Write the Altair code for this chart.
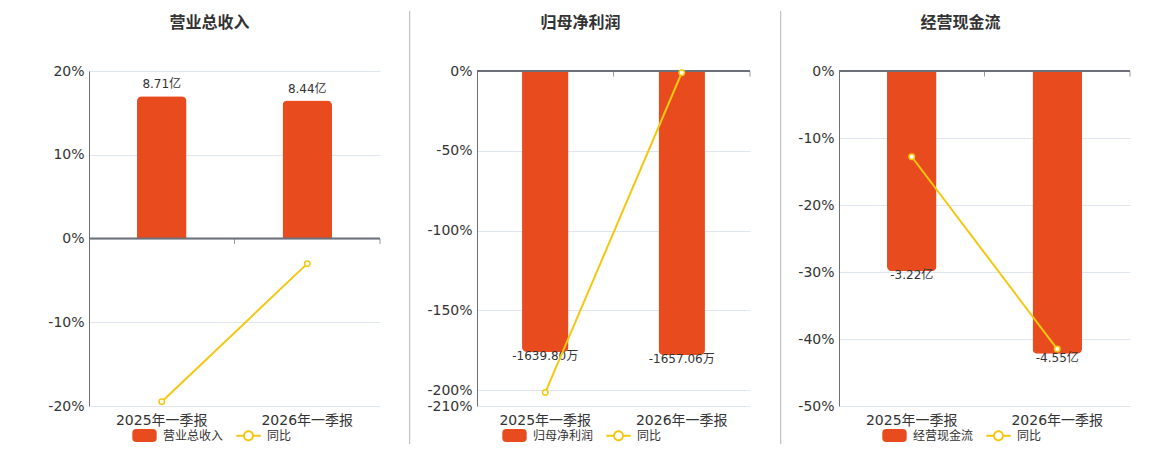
import math
import altair as alt
import pandas as pd

# ---- data ----
categories = ['2025年一季报', '2026年一季报']

titles = ['营业总收入', '归母净利润', '经营现金流']
units = ['亿', '万', '亿']

amount_rev = [8.71, 8.44]
amount_np = [-1639.80, -1657.06]
amount_cf = [-3.22, -4.55]

yoy_rev = [-19.5, -3.0]
yoy_np = [-201.6, -1.1]
yoy_cf = [-12.8, -41.5]

ticks_rev = [-20, -10, 0, 10, 20]
ticks_np = [-210, -200, -150, -100, -50, 0]
ticks_cf = [-50, -40, -30, -20, -10, 0]

# hidden bar axis ranges (aligned with the percent axis)
bar_dom_rev = [-10.25, 10.25]
bar_dom_np = [-1955, 0]
bar_dom_cf = [-5.39, 0]

FONT = 'DejaVu Sans, Noto Sans CJK SC'
BAR = '#E84C1E'
LINE = '#F2C811'
TXT = '#333333'
AXIS = '#6E7079'
GRID = '#E0E6F1'
H = 335


def ring_path():
    # legend symbol: short line with a hollow circle in the middle
    ro, ri, n = 0.45, 0.29, 32
    outer = [(ro * math.cos(2 * math.pi * k / n), ro * math.sin(2 * math.pi * k / n)) for k in range(n)]
    inner = [(ri * math.cos(-2 * math.pi * k / n), ri * math.sin(-2 * math.pi * k / n)) for k in range(n)]
    p = 'M' + ' L'.join(f'{a:.3f},{b:.3f}' for a, b in outer) + ' Z '
    p += 'M' + ' L'.join(f'{a:.3f},{b:.3f}' for a, b in inner) + ' Z '
    p += 'M-1,-0.08 L-0.44,-0.08 L-0.44,0.08 L-1,0.08 Z '
    p += 'M0.44,-0.08 L1,-0.08 L1,0.08 L0.44,0.08 Z'
    return p


RECT = ('M-0.67,-0.53 L0.67,-0.53 Q1,-0.53 1,-0.2 L1,0.2 Q1,0.53 0.67,0.53 '
        'L-0.67,0.53 Q-1,0.53 -1,0.2 L-1,-0.2 Q-1,-0.53 -0.67,-0.53 Z')
RING = ring_path()


def panel(title, unit, amounts, yoy, ticks, bar_dom, width, extent, leg_x, title_dx):
    df = pd.DataFrame({'cat': categories, 'amount': amounts, 's': title})
    dl = pd.DataFrame({'cat': categories, 'yoy': yoy, 's': '同比'})
    neg = amounts[0] < 0

    x = alt.X('cat:N', sort=categories, title=None,
              scale=alt.Scale(paddingInner=0, paddingOuter=0),
              axis=alt.Axis(labelAngle=0, domain=False, ticks=False, labelFontSize=14,
                            labelColor=TXT, labelFont=FONT, labelPadding=7))
    bar_y = alt.Y('amount:Q', scale=alt.Scale(domain=bar_dom, nice=False), axis=None)
    pct_y = alt.Y('yoy:Q', title=None,
                  scale=alt.Scale(domain=[min(ticks), max(ticks)], nice=False, zero=False),
                  axis=alt.Axis(values=ticks, labelExpr="datum.value + '%'", grid=True,
                                gridColor=GRID, domainColor=AXIS, ticks=False,
                                labelFontSize=14, labelColor=TXT, labelFont=FONT,
                                labelPadding=5, minExtent=extent, maxExtent=extent))
    leg = alt.Legend(title=None, orient='none', legendX=leg_x, legendY=352,
                     direction='horizontal', symbolSize=595, symbolStrokeWidth=0,
                     symbolOpacity=1, labelFontSize=12, labelColor=TXT, labelFont=FONT,
                     labelOffset=6, columnPadding=12, padding=0)
    cscale = alt.Scale(domain=[title, '同比'], range=[BAR, LINE])

    corner = (dict(cornerRadiusBottomLeft=5, cornerRadiusBottomRight=5) if neg
              else dict(cornerRadiusTopLeft=5, cornerRadiusTopRight=5))
    bars = alt.Chart(df).mark_bar(width=alt.RelativeBandSize(0.34), **corner).encode(
        x=x, y=bar_y, color=alt.Color('s:N', scale=cscale, legend=leg))
    labels = alt.Chart(df).transform_calculate(
        label=f"replace(format(datum.amount, '.2f'), '\u2212', '-') + '{unit}'"
    ).mark_text(baseline='top' if neg else 'bottom', dy=-1 if neg else -5,
                fontSize=12, color=TXT, font=FONT).encode(x=x, y=bar_y, text='label:N')

    zero = alt.Chart(dl.iloc[:1]).mark_rule(color=AXIS, strokeWidth=2).encode(y=alt.datum(0))
    zticks = alt.Chart(dl).mark_tick(orient='vertical', size=5, thickness=1, yOffset=3,
                                     color=AXIS).encode(
        x=alt.X('cat:N', sort=categories, bandPosition=1), y=alt.datum(0))
    line = alt.Chart(dl).mark_line(strokeWidth=2).encode(
        x=x, y=pct_y, color=alt.Color('s:N', scale=cscale, legend=leg))
    pts = alt.Chart(dl).mark_circle(size=30, fill='white', stroke=LINE, strokeWidth=1.5,
                                    opacity=1).encode(x=x, y=pct_y)
    shp = alt.Chart(dl).transform_filter('false').mark_point().encode(
        x=x, y=pct_y,
        shape=alt.Shape('s:N', scale=alt.Scale(domain=[title, '同比'], range=[RECT, RING]),
                        legend=leg))

    return alt.layer(
        alt.layer(bars, labels),
        alt.layer(line, zero, zticks, pts, shp),
    ).resolve_scale(y='independent').properties(
        width=width, height=H,
        title=alt.TitleParams(title, fontSize=16, fontWeight='bold', color=TXT, font=FONT,
                              anchor='middle', frame='group', dx=title_dx, offset=33),
    )


def divider(width, pos):
    return alt.Chart(pd.DataFrame({'d': [0]})).mark_rule(color='#B4B4B4', strokeWidth=1).encode(
        x=alt.value(pos), y=alt.value(-60), y2=alt.value(373)
    ).properties(width=width, height=H)


c1 = panel(titles[0], units[0], amount_rev, yoy_rev, ticks_rev, bar_dom_rev, 291, 81, 43, -25)
c2 = panel(titles[1], units[1], amount_np, yoy_np, ticks_np, bar_dom_np, 273, 57, 25, -33)
c3 = panel(titles[2], units[2], amount_cf, yoy_cf, ticks_cf, bar_dom_cf, 291, 49, 43, -24)

chart = alt.hconcat(
    c1, divider(97, 29.7), c2, divider(89, 30.7), c3, spacing=0, bounds='flush'
).resolve_scale(
    color='independent', shape='independent'
).properties(
    padding={'left': 0, 'top': 2, 'right': 0, 'bottom': 0}
).configure_view(stroke=None)

chart.save('out.html', embed_options={'renderer': 'svg', 'actions': False})
